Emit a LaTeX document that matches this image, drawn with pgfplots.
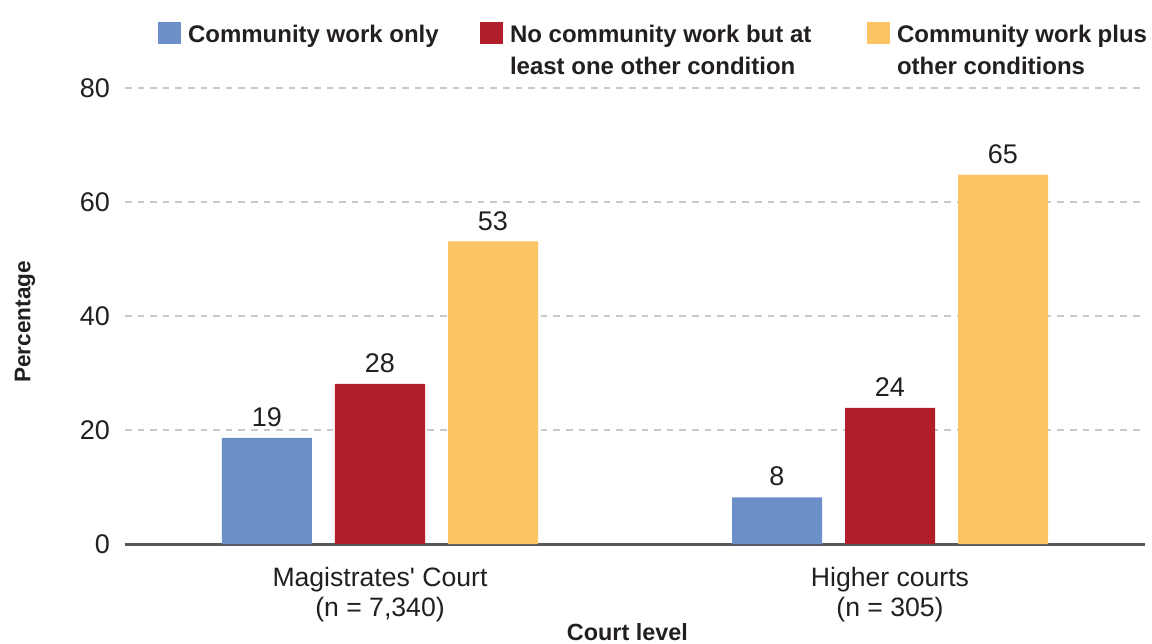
\documentclass[border=0pt]{standalone}
\usepackage{pgfplots}
\pgfplotsset{compat=1.18}
\usepackage{fontspec}
\setmainfont{Liberation Sans}
\definecolor{cblue}{RGB}{108,143,200}
\definecolor{cred}{RGB}{176,31,41}
\definecolor{cyellow}{RGB}{252,196,98}
\definecolor{ctext}{RGB}{35,31,32}
\definecolor{caxis}{RGB}{85,88,92}
\definecolor{cgrid}{RGB}{200,200,200}
\begin{document}
\begin{tikzpicture}
\useasboundingbox (-62.5pt,-49.5pt) rectangle (513.5pt,272pt);
\begin{axis}[
  at={(0,0)}, anchor=south west,
  scale only axis, width=510pt, height=228pt,
  xmin=-0.5, xmax=1.5, ymin=0, ymax=80,
  ybar=11.5pt, bar width=45pt,
  axis x line*=bottom, axis y line*=left,
  x axis line style={draw=caxis, line width=1.5pt},
  y axis line style={draw=none},
  tick style={draw=none},
  xtick={0,1},
  xticklabels={{Magistrates\textquotesingle{} Court\\(n = 7,340)},{Higher courts\\(n = 305)}},
  xticklabel style={align=center, font=\fontsize{13.3}{15}\selectfont, text=ctext, yshift=-4pt},
  ytick={0,20,40,60,80},
  /pgf/number format/assume math mode=true,
  yticklabel style={font=\fontsize{13.5}{15}\selectfont, text=ctext, xshift=-4pt},
  ymajorgrids,
  grid style={draw=cgrid, line width=0.6pt, dash pattern=on 3.3pt off 3pt},
  ylabel={Percentage},
  ylabel style={at={(axis description cs:-0.098,0.487)}, anchor=center, font=\fontsize{11.3}{13}\selectfont\bfseries, text=ctext},
  xlabel={Court level},
  xlabel style={at={(axis description cs:0.4926,-0.193)}, anchor=center, font=\fontsize{11.7}{13}\selectfont\bfseries, text=ctext},
  point meta=explicit symbolic,
  nodes near coords,
  every node near coord/.append style={font=\fontsize{13.5}{15}\selectfont, text=ctext, yshift=2pt},
  legend columns=3,
  legend style={draw=none, fill=none, inner sep=0pt, outer sep=0pt,
    at={(axis description cs:0.0324,1.1447)}, anchor=north west,
    font=\fontsize{12}{16}\selectfont\bfseries, text=ctext,
    nodes={inner sep=0pt},
    /tikz/every odd column/.append style={column sep=3.5pt},
    /tikz/every even column/.append style={column sep=0pt}},
  legend image code/.code={\fill[#1] (0pt,-4.5pt) rectangle (11.5pt,6.5pt);},
]
\addplot[fill=cblue, draw=none] coordinates {(0,18.6) [19] (1,8.2) [8]};
\addplot[fill=cred, draw=none] coordinates {(0,28.1) [28] (1,23.9) [24]};
\addplot[fill=cyellow, draw=none] coordinates {(0,53.1) [53] (1,64.8) [65]};
\addlegendentry{\parbox[t]{146pt}{\raggedright Community work only}}
\addlegendentry{\parbox[t]{178.5pt}{\raggedright No community work but at\\least one other condition}}
\addlegendentry{\parbox[t]{125pt}{\raggedright Community work plus\\other conditions}}
\end{axis}
\end{tikzpicture}
\end{document}
